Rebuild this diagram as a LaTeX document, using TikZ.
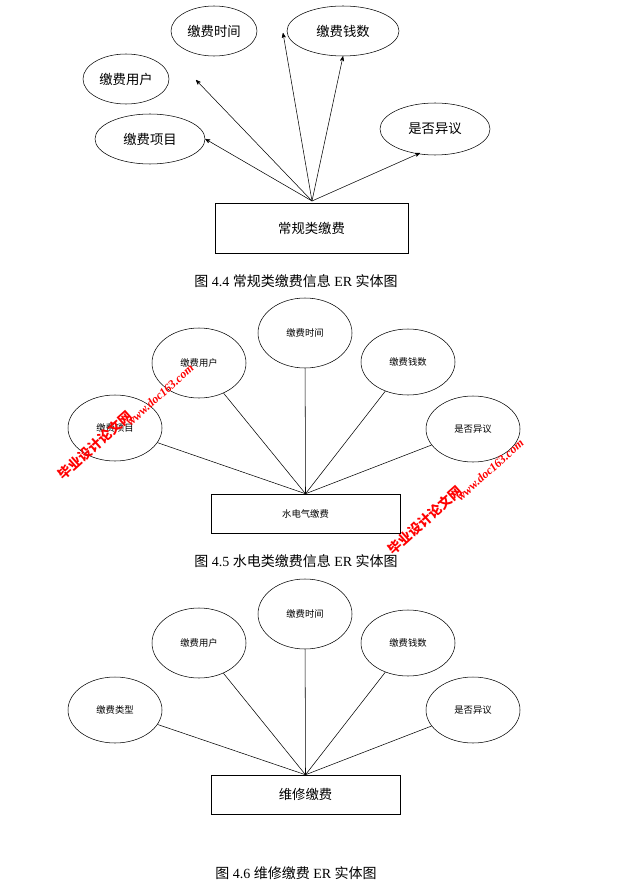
\documentclass[tikz,border=0pt]{standalone}
\usepackage{fontspec}
\setmainfont{Liberation Serif}
\newfontfamily\cjk{Noto Sans CJK SC}
\usetikzlibrary{shapes.geometric,arrows,positioning}
\tikzset{
  attr/.style={draw,ellipse,inner sep=0pt,font=\cjk\fontsize{10}{12}\selectfont},
  sattr/.style={draw,ellipse,inner sep=0pt,minimum width=70.5pt,font=\cjk\fontsize{7}{9}\selectfont},
  ent/.style={draw,rectangle,inner sep=0pt},
  figcap/.style={font=\fontsize{10.5}{12}\selectfont},
  wmark/.style={red,rotate=42,font=\bfseries\itshape\fontsize{9}{10}\selectfont}
}
\begin{document}
\begin{tikzpicture}[x=0.75pt,y=-0.75pt,>=stealth',thin]
\useasboundingbox (0,0) rectangle (621,895);
% figure 4.4
\node[attr,minimum width=64.5pt,minimum height=37.5pt] (t1) at (214,31) {缴费时间};
\node[attr,minimum width=84pt,minimum height=37.5pt] (m1) at (343,31) {缴费钱数};
\node[attr,minimum width=64.5pt,minimum height=37.5pt] (u1) at (126,79) {缴费用户};
\node[attr,minimum width=82.5pt,minimum height=37.5pt] (p1) at (150,139) {缴费项目};
\node[attr,minimum width=82.5pt,minimum height=39pt] (d1) at (435,129) {是否异议};
\node[ent,minimum width=144.75pt,minimum height=37.5pt,font=\cjk\fontsize{10}{12}\selectfont] (e1) at (311.5,228) {常规类缴费};
\coordinate (o1) at (312,201);
\draw[->] (o1) -- (283,33);
\draw[->] (o1) -- (m1.south);
\draw[->] (o1) -- (196,80);
\draw[->] (o1) -- (p1.east);
\draw[->] (o1) -- (420,153);
\node[figcap] (c1) at (296,281) {{\cjk 图} 4.4 {\cjk 常规类缴费信息} ER {\cjk 实体图}};
% figure 4.5
\node[sattr,minimum height=52.5pt] (u2) at (199,363) {缴费用户};
\node[sattr,minimum height=52.5pt] (t2) at (305,333) {缴费时间};
\node[sattr,minimum height=49.5pt] (m2) at (408,362) {缴费钱数};
\node[sattr,minimum height=49.5pt] (p2) at (115,428) {缴费项目};
\node[sattr,minimum height=49.5pt] (d2) at (473,429) {是否异议};
\node[ent,minimum width=141.75pt,minimum height=29.25pt,font=\cjk\fontsize{7}{9}\selectfont] (e2) at (305.5,513.5) {水电气缴费};
\foreach \n in {u2,t2,m2,p2,d2} \draw (e2.north) -- (\n);
\node[figcap] (c2) at (296,561) {{\cjk 图} 4.5 {\cjk 水电类缴费信息} ER {\cjk 实体图}};
% figure 4.6
\node[sattr,minimum height=52.5pt] (u3) at (199,643) {缴费用户};
\node[sattr,minimum height=52.5pt] (t3) at (305,614) {缴费时间};
\node[sattr,minimum height=49.5pt] (m3) at (408,643) {缴费钱数};
\node[sattr,minimum height=49.5pt] (p3) at (115,710) {缴费类型};
\node[sattr,minimum height=49.5pt] (d3) at (473,710) {是否异议};
\node[ent,minimum width=141.75pt,minimum height=29.25pt,font=\cjk\fontsize{10}{12}\selectfont] (e3) at (305.5,794.5) {维修缴费};
\foreach \n in {u3,t3,m3,p3,d3} \draw (e3.north) -- (\n);
\node[figcap] (c3) at (296,873) {{\cjk 图} 4.6 {\cjk 维修缴费} ER {\cjk 实体图}};
% watermarks
\node[wmark,font=\cjk\bfseries\fontsize{10}{12}\selectfont] (w1) at (95,445) {毕业设计论文网};
\node[wmark] (w2) at (160,395) {www.doc163.com};
\node[wmark,font=\cjk\bfseries\fontsize{10}{12}\selectfont] (w3) at (425,520) {毕业设计论文网};
\node[wmark] (w4) at (490,470) {www.doc163.com};
\end{tikzpicture}
\end{document}
